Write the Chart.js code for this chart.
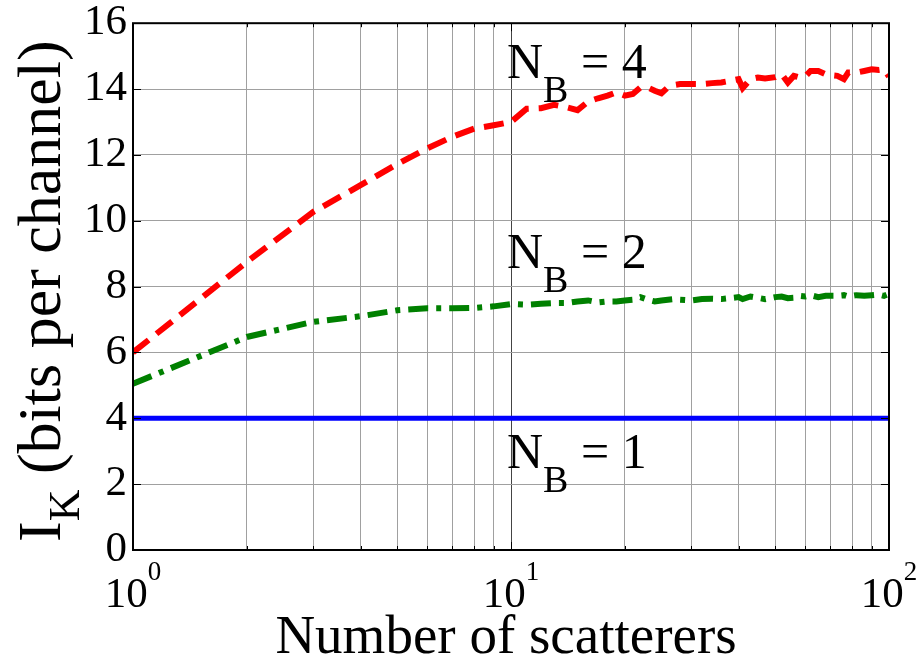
<!DOCTYPE html>
<html><head><meta charset="utf-8">
<script src="https://cdn.jsdelivr.net/npm/chart.js@4/dist/chart.umd.min.js"></script>
<style>html,body{margin:0;padding:0;background:#fff;overflow:hidden}</style>
</head><body><canvas id="c" width="921" height="659"></canvas>
<script>
// ---- data ----
const scattererCounts = [1,2,3,4,5,6,7,8,9,10,11,12,13,14,15,16,17,18,19,20,21,22,23,24,25,26,27,28,
  30,32,34,36,38,40,41,43,45,47,50,52,54,56,58,60,62,65,68,70,73,76,78,82,86,90,94,97,100];
const bitsNB4 = [6.0,8.75,10.27,11.08,11.72,12.2,12.55,12.8,12.9,13.0,
  13.4,13.42,13.52,13.45,13.36,13.62,13.72,13.8,13.9,13.8,13.85,14.05,14.05,13.95,13.87,14.05,14.12,14.15,
  14.15,14.15,14.18,14.2,14.25,14.3,14.03,14.3,14.35,14.32,14.36,
  14.45,14.2,14.4,14.35,14.38,14.55,14.55,14.45,14.42,14.4,14.3,14.5,14.5,14.55,14.6,14.58,14.6,14.38];
const bitsNB2 = [5.05,6.47,6.93,7.1,7.28,7.34,7.34,7.35,7.4,7.47,
  7.45,7.48,7.5,7.5,7.55,7.58,7.52,7.55,7.55,7.58,7.6,7.68,7.6,7.55,7.58,7.6,7.62,7.6,
  7.58,7.62,7.63,7.62,7.65,7.68,7.62,7.7,7.66,7.62,7.68,
  7.7,7.65,7.66,7.72,7.7,7.74,7.68,7.72,7.72,7.72,7.74,7.7,7.74,7.72,7.74,7.76,7.72,7.78];
const nb1Counts = [1,100];
const bitsNB1 = [4,4];
const yTickValues = [0,2,4,6,8,10,12,14,16];
const xTickValues = [1,2,3,4,5,6,7,8,9,10,20,30,40,50,60,70,80,90,100];
const xDecadeLabels = [{value:1,base:'10',exp:'0'},{value:10,base:'10',exp:'1'},{value:100,base:'10',exp:'2'}];
const curveLabels = [
  {main:'N', sub:'B', rest:' = 4', x:10, y:14.33},
  {main:'N', sub:'B', rest:' = 2', x:10, y:8.56},
  {main:'N', sub:'B', rest:' = 1', x:10, y:2.49}
];
const xTitle = 'Number of scatterers';
const yTitle = {main:'I', sub:'K', rest:' (bits per channel)'};

const FONT = '"Liberation Serif", "Times New Roman", serif';
const pts = (xs, ys) => xs.map((x, i) => ({x, y: ys[i]}));

const decorPlugin = {
  id: 'decor',
  afterDraw(chart) {
    const ctx = chart.ctx, a = chart.chartArea;
    const xs = chart.scales.x, ys = chart.scales.y;
    ctx.save();
    ctx.strokeStyle = '#000'; ctx.lineWidth = 1;
    yTickValues.forEach(v => {
      const py = Math.round(ys.getPixelForValue(v)) + 0.5;
      ctx.beginPath();
      ctx.moveTo(a.left, py); ctx.lineTo(a.left + 8, py);
      ctx.moveTo(a.right, py); ctx.lineTo(a.right - 8, py);
      ctx.stroke();
    });
    xTickValues.forEach(v => {
      const px = Math.round(xs.getPixelForValue(v)) + 0.5;
      const len = [1,10,100].includes(v) ? 8 : 4;
      ctx.beginPath();
      ctx.moveTo(px, a.bottom); ctx.lineTo(px, a.bottom - len);
      ctx.moveTo(px, a.top); ctx.lineTo(px, a.top + len);
      ctx.stroke();
    });
    ctx.lineWidth = 2;
    ctx.strokeRect(a.left, a.top, a.right - a.left, a.bottom - a.top);
    ctx.fillStyle = '#000';
    ctx.textBaseline = 'alphabetic';
    ctx.textAlign = 'left';
    xDecadeLabels.forEach(l => {
      const px = xs.getPixelForValue(l.value);
      ctx.font = '43px ' + FONT; const wb = ctx.measureText(l.base).width;
      ctx.font = '27px ' + FONT; const we = ctx.measureText(l.exp).width;
      const start = px - (wb + we) / 2;
      ctx.font = '43px ' + FONT; ctx.fillText(l.base, start, 607);
      ctx.font = '27px ' + FONT; ctx.fillText(l.exp, start + wb, 580);
    });
    curveLabels.forEach(l => {
      const px = xs.getPixelForValue(l.x), py = ys.getPixelForValue(l.y);
      ctx.font = '50px ' + FONT; const w1 = ctx.measureText(l.main).width;
      ctx.fillText(l.main, px - 4, py);
      ctx.font = '38px ' + FONT; const w2 = ctx.measureText(l.sub).width;
      ctx.fillText(l.sub, px - 4 + w1, py + 24);
      ctx.font = '50px ' + FONT;
      ctx.fillText(l.rest, px - 4 + w1 + w2, py);
    });
    ctx.font = '55px ' + FONT;
    ctx.textAlign = 'center';
    ctx.fillText(xTitle, (a.left + a.right) / 2 - 5, 653);
    ctx.textAlign = 'left';
    ctx.translate(60, 542);
    ctx.rotate(-Math.PI / 2);
    ctx.font = '62px ' + FONT; const t1 = ctx.measureText(yTitle.main).width;
    ctx.fillText(yTitle.main, 0, 0);
    ctx.font = '44px ' + FONT; const t2 = ctx.measureText(yTitle.sub).width;
    ctx.fillText(yTitle.sub, t1, 19);
    ctx.font = '62px ' + FONT;
    ctx.fillText(yTitle.rest, t1 + t2, 0);
    ctx.restore();
  }
};

new Chart(document.getElementById('c'), {
  type: 'line',
  data: {
    datasets: [
      {label: 'N_B = 4', data: pts(scattererCounts, bitsNB4), borderColor: '#ff0000', borderWidth: 6,
       borderDash: [20, 10], pointRadius: 0, tension: 0, borderCapStyle: 'butt', fill: false},
      {label: 'N_B = 2', data: pts(scattererCounts, bitsNB2), borderColor: '#008000', borderWidth: 6,
       borderDash: [20, 8, 5, 8], pointRadius: 0, tension: 0, borderCapStyle: 'butt', fill: false},
      {label: 'N_B = 1', data: pts(nb1Counts, bitsNB1), borderColor: '#0000ff', borderWidth: 5,
       pointRadius: 0, tension: 0, fill: false}
    ]
  },
  options: {
    responsive: false, animation: false, devicePixelRatio: 1,
    layout: {padding: {top: 23, right: 32, left: 0, bottom: 0}},
    plugins: {legend: {display: false}, tooltip: {enabled: false}},
    scales: {
      x: {
        type: 'logarithmic', min: 1, max: 100,
        afterBuildTicks: s => { s.ticks = xTickValues.map(v => ({value: v})); },
        afterFit: s => { s.height = 109; },
        ticks: {display: false},
        grid: {color: c => (c.tick && c.tick.value === 10) ? '#444' : '#a0a0a0', lineWidth: 1, drawTicks: false},
        border: {display: false}
      },
      y: {
        min: 0, max: 16,
        afterBuildTicks: s => { s.ticks = yTickValues.map(v => ({value: v})); },
        afterFit: s => { s.width = 133; },
        ticks: {font: {family: FONT, size: 43, lineHeight: 0.8}, color: '#000', padding: 6},
        grid: {color: '#a0a0a0', lineWidth: 1, drawTicks: false},
        border: {display: false}
      }
    }
  },
  plugins: [decorPlugin]
});
</script>
</body></html>
